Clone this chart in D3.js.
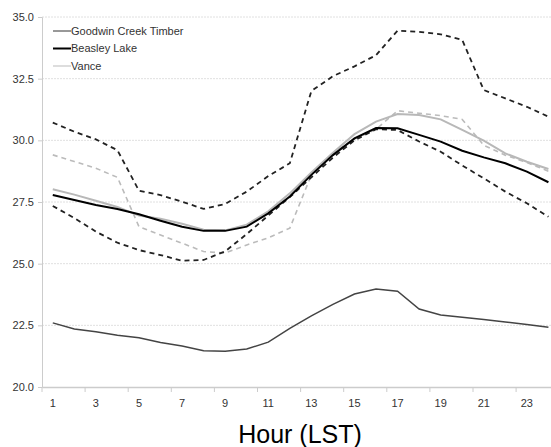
<!DOCTYPE html>
<html>
<head>
<meta charset="utf-8">
<script src="https://cdnjs.cloudflare.com/ajax/libs/d3/7.8.5/d3.min.js"></script>
<style>
  body { margin: 0; background: #fff; }
  text { font-family: "Liberation Sans", Arial, sans-serif; }
</style>
</head>
<body>
<div class="main"></div>
<script>
// hours on the x axis
var hours = [1,2,3,4,5,6,7,8,9,10,11,12,13,14,15,16,17,18,19,20,21,22,23,24];
var yTicks = [20, 22.5, 25, 27.5, 30, 32.5, 35];

// mean temperatures (solid lines)
var goodwin = [22.6,22.35,22.24,22.1,22.0,21.8,21.66,21.47,21.45,21.54,21.82,22.38,22.88,23.35,23.77,23.97,23.88,23.16,22.92,22.83,22.74,22.64,22.53,22.42];
var beasley = [27.78,27.58,27.38,27.22,27.0,26.74,26.5,26.33,26.33,26.5,27.04,27.72,28.6,29.4,30.08,30.5,30.49,30.22,29.95,29.58,29.31,29.07,28.73,28.3];
var vance = [28.02,27.8,27.55,27.3,26.95,26.82,26.62,26.38,26.35,26.58,27.12,27.85,28.7,29.5,30.25,30.76,31.07,31.03,30.85,30.42,29.99,29.47,29.13,28.84];

// dashed lines (not in legend)
var upperDash = [30.72,30.35,30.04,29.6,27.96,27.78,27.51,27.22,27.42,27.92,28.55,29.07,32.0,32.6,33.0,33.45,34.45,34.4,34.3,34.07,32.04,31.7,31.36,30.96];
var lowerDash = [27.34,26.85,26.3,25.85,25.55,25.35,25.12,25.15,25.5,26.2,26.95,27.7,28.5,29.3,30.0,30.45,30.42,29.95,29.54,28.98,28.46,27.92,27.45,26.9];
var grayDash = [29.41,29.14,28.87,28.5,26.5,26.16,25.83,25.49,25.43,25.76,26.05,26.44,28.6,29.47,30.05,30.45,31.2,31.1,31.0,30.85,29.8,29.4,29.1,28.75];

var width = 551, height = 447;

var svg = d3.select("div.main").append("svg")
    .attr("width", width)
    .attr("height", height);

// category axis runs past the right edge like the original picture
var x = d3.scaleBand()
    .domain(hours)
    .range([42, 42 + 24 * 21.55]);

var y = d3.scaleLinear()
    .domain([20, 35])
    .range([387, 17]);

function cx(h) { return x(h) + x.bandwidth() / 2; }

// gridlines
svg.append("g").selectAll("line")
    .data(yTicks.slice(1))
    .enter().append("line")
    .attr("x1", 42).attr("x2", width)
    .attr("y1", function(d) { return y(d); })
    .attr("y2", function(d) { return y(d); })
    .style("stroke", "#e0e0e0")
    .style("stroke-width", 1)
    .style("stroke-dasharray", "2,1");

// y axis
var yAxis = svg.append("g")
    .attr("transform", "translate(42,0)")
    .call(d3.axisLeft(y).tickValues(yTicks).tickFormat(d3.format(".1f")).tickSize(4).tickPadding(4));
yAxis.select(".domain").style("stroke", "#ccc");
yAxis.selectAll(".tick line").style("stroke", "#ccc");
yAxis.selectAll("text").style("font-size", "11px").style("fill", "#333");

// x axis, ticks on every other band edge, labels on odd hours
var xAxis = svg.append("g")
    .attr("transform", "translate(0,387)")
    .call(d3.axisBottom(x).tickValues(hours.filter(function(d) { return d % 2 == 1; })).tickSize(0).tickPadding(12));
xAxis.select(".domain").style("stroke", "#ccc").style("stroke-width", 1.5);
xAxis.selectAll("text").style("font-size", "11px").style("fill", "#333");
xAxis.selectAll(".tick").append("line")
    .attr("x1", -x.bandwidth() / 2).attr("x2", -x.bandwidth() / 2)
    .attr("y1", 0).attr("y2", 5)
    .style("stroke", "#ccc");

var line = d3.line()
    .x(function(d, i) { return cx(hours[i]); })
    .y(function(d) { return y(d); });

var series = [
    { values: grayDash, color: "#bbb", w: 1.6, dash: "5,4" },
    { values: lowerDash, color: "#222", w: 1.8, dash: "5,4" },
    { values: upperDash, color: "#222", w: 1.8, dash: "5,4" },
    { values: goodwin, color: "#444", w: 1.5, dash: null },
    { values: vance, color: "#b8b8b8", w: 2, dash: null },
    { values: beasley, color: "#000", w: 2, dash: null }
];

series.forEach(function(s) {
    svg.append("path")
        .datum(s.values)
        .attr("d", line)
        .style("fill", "none")
        .style("stroke", s.color)
        .style("stroke-width", s.w)
        .style("stroke-dasharray", s.dash);
});

// legend
var legendItems = [
    { name: "Goodwin Creek Timber", color: "#333", w: 1 },
    { name: "Beasley Lake", color: "#000", w: 2 },
    { name: "Vance", color: "#bbb", w: 1 }
];
var legend = svg.append("g").selectAll("g")
    .data(legendItems)
    .enter().append("g")
    .attr("transform", function(d, i) { return "translate(53," + (31 + i * 17.5) + ")"; });
legend.append("line")
    .attr("x1", 0).attr("x2", 18)
    .style("stroke", function(d) { return d.color; })
    .style("stroke-width", function(d) { return d.w; });
legend.append("text")
    .attr("x", 18)
    .attr("dy", "0.35em")
    .style("font-size", "11px")
    .style("fill", "#333")
    .text(function(d) { return d.name; });

// axis title
svg.append("text")
    .attr("x", 300)
    .attr("y", 443)
    .attr("text-anchor", "middle")
    .style("font-size", "25px")
    .style("fill", "#000")
    .text("Hour (LST)");
</script>
</body>
</html>
